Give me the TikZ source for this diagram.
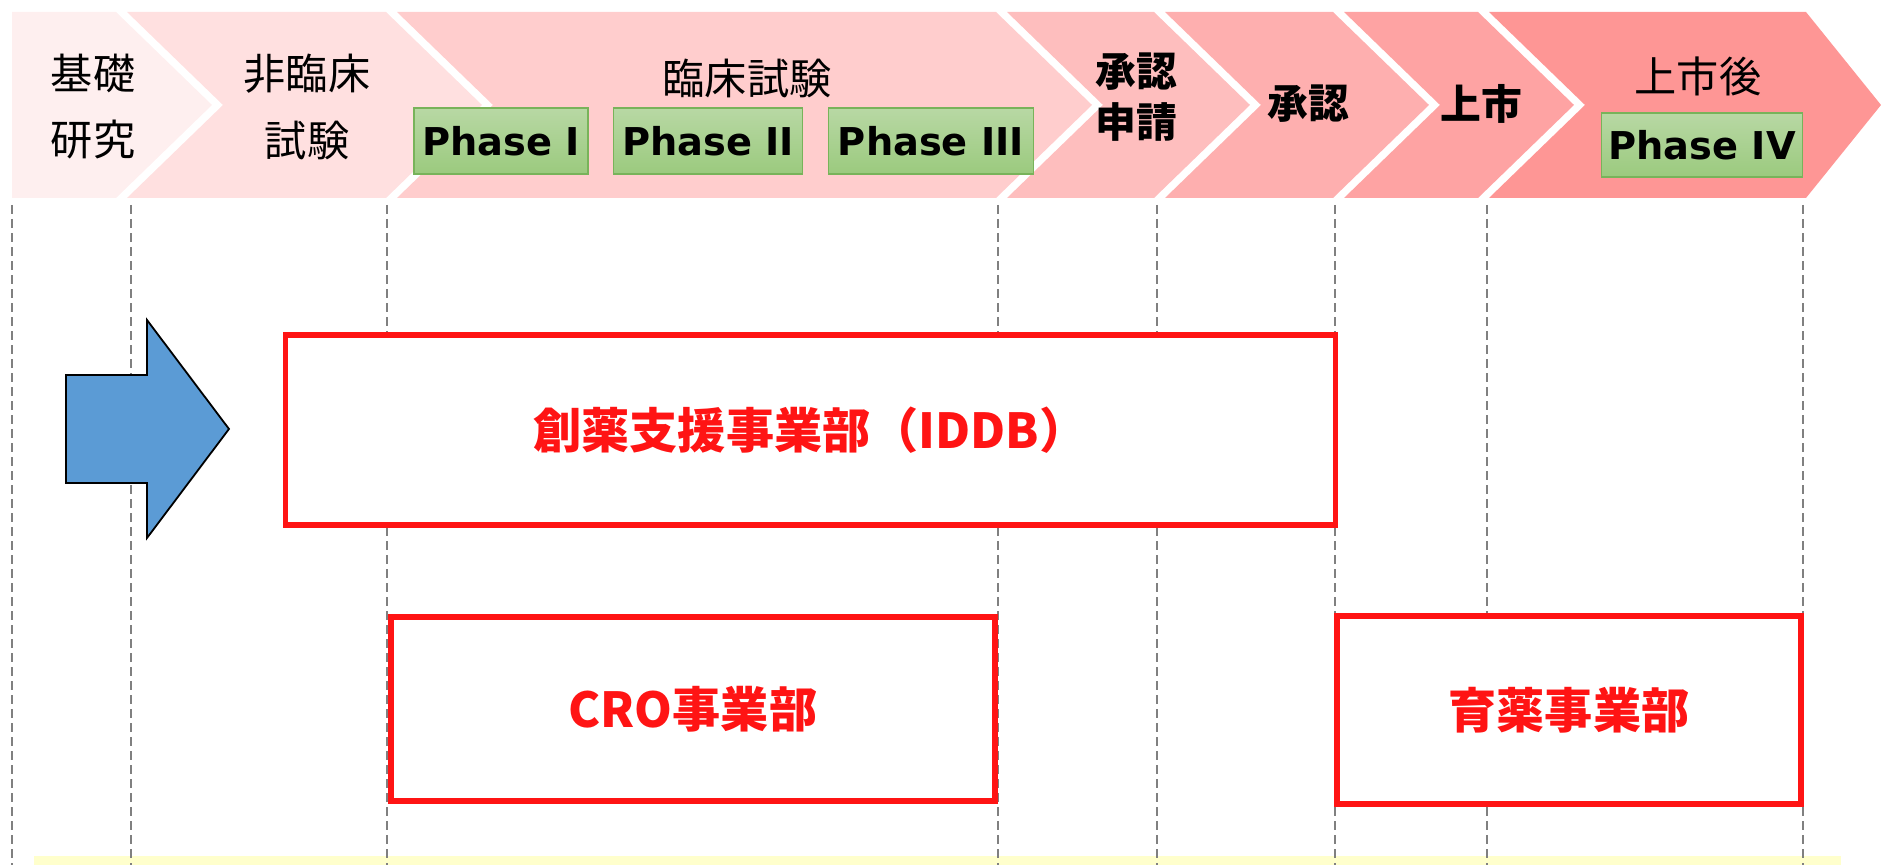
\documentclass[tikz,border=0pt]{standalone}
\usepackage{fontspec}
\newfontfamily\jp{Noto Sans CJK JP}
\newfontfamily\ph{DejaVu Sans}
\definecolor{cA}{HTML}{FEEFEF}
\definecolor{cB}{HTML}{FFE0E0}
\definecolor{cC}{HTML}{FFCDCD}
\definecolor{cD}{HTML}{FEBEBE}
\definecolor{cE}{HTML}{FEAFAF}
\definecolor{cF}{HTML}{FEA3A3}
\definecolor{cG}{HTML}{FE9695}
\definecolor{phtop}{HTML}{B8D8A4}
\definecolor{phbot}{HTML}{9BCA7E}
\definecolor{phline}{HTML}{78B35A}
\definecolor{boxred}{HTML}{FF1414}
\definecolor{arrblue}{HTML}{5B9BD5}
\definecolor{guide}{HTML}{808080}
\definecolor{yel}{HTML}{FFFFCC}
\begin{document}
\begin{tikzpicture}[x=0.01cm,y=-0.01cm,
  lbl/.style={inner sep=0pt,align=center,font=\jp\fontsize{12}{18.8}\selectfont},
  blbl/.style={inner sep=0pt,align=center,font=\jp\bfseries\fontsize{11.6}{14.6}\selectfont},
  phasebox/.style={draw=phline,line width=0.012cm,top color=phtop,bottom color=phbot,
    inner sep=0pt,minimum height=0.66cm,font=\ph\bfseries\fontsize{10.9}{12}\selectfont},
  redbox/.style={draw=boxred,line width=0.055cm,fill=white,inner sep=0pt,
    text=boxred,font=\jp\bfseries\fontsize{13.7}{16}\selectfont},
  guideline/.style={guide,line width=0.022cm,dash pattern=on 0.09cm off 0.05cm}
]
\useasboundingbox (0,0) rectangle (1881,865);
% chevrons
\fill[cA] (12,12) -- (116,12) -- (212,105) -- (116,198) -- (12,198) -- cycle;
\fill[cB] (127,12) -- (386,12) -- (482,105) -- (386,198) -- (127,198) -- (223,105) -- cycle;
\fill[cC] (397,12) -- (996,12) -- (1092,105) -- (996,198) -- (397,198) -- (493,105) -- cycle;
\fill[cD] (1007,12) -- (1154,12) -- (1250,105) -- (1154,198) -- (1007,198) -- (1103,105) -- cycle;
\fill[cE] (1165,12) -- (1333,12) -- (1429,105) -- (1333,198) -- (1165,198) -- (1261,105) -- cycle;
\fill[cF] (1344,12) -- (1478,12) -- (1574,105) -- (1478,198) -- (1344,198) -- (1440,105) -- cycle;
\fill[cG] (1489,12) -- (1806,12) -- (1881,105) -- (1806,198) -- (1489,198) -- (1585,105) -- cycle;
% stage labels
\node[lbl] (kiso) at (93,107) {基礎\\研究};
\node[lbl] (hirinsho) at (307,107) {非臨床\\試験};
\node[lbl] (rinsho) at (747,79) {臨床試験};
\node[blbl] (shinsei) at (1136,97) {承認\\申請};
\node[blbl] (shonin) at (1308,104) {承認};
\node[blbl] (joshi) at (1481,104) {上市};
\node[lbl] (jojigo) at (1698,76) {上市後};
% phase boxes
\node[phasebox,minimum width=1.74cm] (p1) at (501,141) {Phase I};
\node[phasebox,minimum width=1.89cm] (p2) at (708,141) {Phase II};
\node[phasebox,minimum width=2.05cm] (p3) at (931,141) {Phase III};
\node[phasebox,minimum width=2.01cm,minimum height=0.64cm] (p4) at (1702,145) {Phase IV};
% yellow band
\fill[yel] (34,856) rectangle (1841,870);
% guide lines
\foreach \gx in {12,131,387,998,1157,1335,1487,1803}
  \draw[guideline] (\gx,205) -- (\gx,866);
% blue arrow
\draw[fill=arrblue,draw=black,line width=0.018cm,line join=miter]
  (66,375) -- (147,375) -- (147,320) -- (229,429) -- (147,538) -- (147,483) -- (66,483) -- cycle;
% red boxes
\node[redbox,minimum width=10.49cm,minimum height=1.90cm] (iddb) at (810.5,430) {創薬支援事業部（IDDB）};
\node[redbox,minimum width=6.04cm,minimum height=1.84cm] (cro) at (693,709) {CRO事業部};
\node[redbox,minimum width=4.64cm,minimum height=1.88cm] (ikuyaku) at (1569,710) {育薬事業部};
\end{tikzpicture}
\end{document}
